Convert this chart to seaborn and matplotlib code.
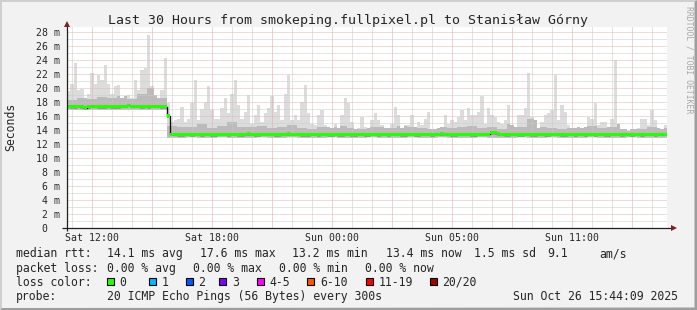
import numpy as np
import matplotlib
matplotlib.use("Agg")
import matplotlib.pyplot as plt
import seaborn as sns
from matplotlib.patches import Rectangle, Polygon
from matplotlib.ticker import MultipleLocator, FixedLocator, FuncFormatter

# ---------------- data ----------------
start_hour = 10.75          # window start, hours after Sat 00:00
step_hours = 1 / 6          # 10-minute steps
coarse_step_hours = 0.5     # 30-minute steps for the inner smoke bands

# top of the smoke (max ping), ms, 10-minute steps
smoke_max = [
    19.5, 20.5, 23.6, 19.7, 19.9, 18.5, 19.2, 22.1, 20.6, 21.8, 21.1, 23.3,
    20.6, 19.2, 20.2, 20.4, 18.5, 18.8, 19.0, 18.5, 21.1, 19.7, 22.6, 22.8,
    27.5, 20.2, 19.0, 18.5, 19.7, 24.2, 17.8, 15.2, 15.4, 15.6, 17.3, 15.2,
    15.6, 17.8, 21.1, 15.4, 17.0, 18.0, 20.2, 16.9, 15.6, 15.6, 17.1, 18.5,
    16.4, 19.2, 21.1, 17.5, 15.6, 16.6, 19.0, 14.9, 16.1, 17.5, 15.2, 16.4,
    17.1, 18.8, 16.6, 17.5, 15.4, 19.2, 21.8, 15.4, 16.1, 15.4, 18.0, 20.4,
    16.4, 14.9, 14.7, 16.1, 16.9, 14.7, 14.5, 14.3, 14.9, 14.3, 16.1, 18.5,
    17.8, 15.2, 14.1, 14.3, 15.8, 14.5, 14.3, 15.4, 16.4, 15.4, 14.7, 14.3,
    14.3, 14.9, 17.3, 16.1, 14.3, 14.7, 14.7, 16.1, 14.5, 15.2, 14.7, 15.6,
    16.6, 14.1, 14.1, 14.3, 14.5, 16.1, 14.9, 15.4, 15.2, 15.8, 16.9, 15.4,
    17.1, 16.1, 16.1, 16.6, 18.8, 14.9, 17.1, 16.1, 15.8, 15.2, 14.9, 15.4,
    17.5, 14.7, 14.5, 16.1, 16.1, 17.1, 22.1, 15.8, 15.4, 14.3, 15.2, 16.1,
    16.4, 16.9, 21.8, 15.4, 17.5, 16.6, 14.7, 14.3, 14.3, 14.5, 14.3, 14.5,
    15.8, 15.6, 17.8, 14.7, 15.2, 15.2, 14.5, 15.6, 24.0, 14.9, 14.1, 14.1,
    13.9, 14.1, 14.1, 14.3, 15.6, 15.6, 14.7, 16.9, 15.4, 14.3, 14.1, 14.7,
]

# median rtt, ms, 10-minute steps
median_rtt = [
    17.4, 17.3, 17.3, 17.4, 17.3, 17.2, 17.3, 17.4, 17.4, 17.3, 17.3, 17.3,
    17.4, 17.3, 17.3, 17.3, 17.4, 17.4, 17.5, 17.4, 17.4, 17.4, 17.3, 17.4,
    17.3, 17.4, 17.4, 17.4, 17.3, 17.3, 16.0, 13.4, 13.4, 13.3, 13.3, 13.4,
    13.4, 13.3, 13.4, 13.4, 13.3, 13.4, 13.4, 13.3, 13.3, 13.4, 13.4, 13.4,
    13.3, 13.4, 13.4, 13.3, 13.3, 13.4, 13.5, 13.4, 13.3, 13.3, 13.4, 13.4,
    13.4, 13.4, 13.3, 13.3, 13.4, 13.4, 13.5, 13.4, 13.4, 13.4, 13.3, 13.3,
    13.3, 13.4, 13.4, 13.3, 13.4, 13.4, 13.3, 13.3, 13.4, 13.3, 13.3, 13.4,
    13.4, 13.3, 13.3, 13.4, 13.4, 13.3, 13.3, 13.4, 13.4, 13.3, 13.4, 13.4,
    13.3, 13.4, 13.4, 13.4, 13.3, 13.3, 13.4, 13.4, 13.3, 13.3, 13.4, 13.4,
    13.4, 13.3, 13.4, 13.4, 13.5, 13.4, 13.4, 13.3, 13.3, 13.4, 13.4, 13.4,
    13.4, 13.3, 13.3, 13.4, 13.4, 13.4, 13.4, 13.6, 13.6, 13.5, 13.4, 13.3,
    13.3, 13.4, 13.4, 13.3, 13.3, 13.4, 13.4, 13.3, 13.3, 13.4, 13.4, 13.3,
    13.3, 13.4, 13.4, 13.4, 13.3, 13.3, 13.4, 13.4, 13.3, 13.4, 13.4, 13.3,
    13.4, 13.4, 13.3, 13.4, 13.4, 13.3, 13.3, 13.4, 13.4, 13.4, 13.3, 13.4,
    13.4, 13.3, 13.4, 13.4, 13.3, 13.4, 13.4, 13.4, 13.3, 13.4, 13.4, 13.4,
]

# bottom of the smoke (min ping), ms, 30-minute steps
smoke_min = [
    16.9, 16.8, 16.9, 16.9, 16.8, 16.9, 16.9, 16.8, 16.9, 16.9,
    12.9, 12.9, 13.0, 12.9, 12.9, 13.0, 12.9, 12.9, 12.9, 13.0,
    12.9, 12.9, 13.0, 12.9, 12.9, 12.9, 13.0, 12.9, 12.9, 12.9,
    13.0, 12.9, 12.9, 12.9, 13.0, 12.9, 12.9, 13.0, 12.9, 12.9,
    12.9, 13.0, 12.9, 12.9, 12.9, 13.0, 12.9, 12.9, 13.0, 12.9,
    12.9, 12.9, 13.0, 12.9, 12.9, 12.9, 13.0, 12.9, 12.9, 12.9,
]

# upper edge of the darker inner smoke, ms, 30-minute steps
smoke_mid = [
    18.3, 18.6, 18.4, 18.7, 18.5, 18.8, 18.4, 19.2, 20.0, 18.6,
    14.6, 14.4, 14.5, 14.8, 14.3, 14.6, 15.2, 14.5, 14.4, 14.6,
    14.3, 14.4, 14.7, 14.3, 14.2, 14.5, 14.4, 14.6, 14.3, 14.2,
    14.4, 14.5, 14.3, 14.6, 14.4, 14.3, 14.2, 14.5, 14.3, 14.4,
    14.6, 14.3, 14.4, 14.2, 14.8, 14.5, 15.6, 14.4, 14.3, 14.2,
    14.3, 14.4, 14.6, 14.3, 14.5, 15.8, 14.3, 14.2, 14.4, 14.3,
]

y_ticks = list(range(0, 29, 2))
y_tick_labels = ["0  "] + [f"{v} m" for v in range(2, 29, 2)]
x_tick_hours = [12, 18, 24, 30, 36]
x_tick_labels = ["Sat 12:00", "Sat 18:00", "Sun 00:00", "Sun 05:00", "Sun 11:00"]

title = "Last 30 Hours from smokeping.fullpixel.pl to Stanisław Górny"
y_label = "Seconds"
row_labels = ["median rtt:", "packet loss:", "loss color:", "probe:"]
median_stats = ["14.1 ms avg", "17.6 ms max", "13.2 ms min", "13.4 ms now",
                "1.5 ms sd", "9.1", "am/s"]
loss_stats = ["0.00 % avg", "0.00 % max", "0.00 % min", "0.00 % now"]
loss_labels = ["0", "1", "2", "3", "4-5", "6-10", "11-19", "20/20"]
loss_colors = ["#26ff00", "#00b8ff", "#0059ff", "#7e00ff",
               "#ff00ff", "#ff5500", "#ff0000", "#a10000"]
probe_text = "20 ICMP Echo Pings (56 Bytes) every 300s"
timestamp = "Sun Oct 26 15:44:09 2025"
watermark = "RRDTOOL / TOBI OETIKER"

# ---------------- style ----------------
sns.set_style("white")
plt.rcParams["font.family"] = ["DejaVu Sans Mono"]
MONO = "DejaVu Sans Mono"

W, H = 697, 310
BACK = "#f2f2f2"
fig = plt.figure(figsize=(W / 100, H / 100), dpi=100, facecolor=BACK)

# plot area in pixels
PX_L, PX_R, PX_T, PX_B = 67, 667, 27, 228.3
ax = fig.add_axes([PX_L / W, 1 - PX_B / H, (PX_R - PX_L) / W, (PX_B - PX_T) / H])
ax.set_facecolor("white")

n_fine = len(smoke_max)
x_fine = start_hour + step_hours * np.arange(n_fine + 1)
rep = int(round(coarse_step_hours / step_hours))
hi = np.array(smoke_max)
med = np.array(median_rtt)
lo = np.repeat(np.array(smoke_min), rep)[:n_fine]
mid = np.minimum(np.repeat(np.array(smoke_mid), rep)[:n_fine], hi)

def ext(a):
    return np.append(a, a[-1])

ax.fill_between(x_fine, ext(lo), ext(hi), step="post", color="#dcdcdc", lw=0, zorder=1)
ax.fill_between(x_fine, ext(lo), ext(mid), step="post", color="#bbbbbb", lw=0, zorder=1.1)
sns.lineplot(x=x_fine, y=ext(med), drawstyle="steps-post", color="#111111",
             lw=1.0, estimator=None, ax=ax, zorder=3)
ax.fill_between(x_fine, ext(med) - 0.22, ext(med) + 0.22, step="post",
                color=loss_colors[0], lw=0, zorder=4)

span = n_fine * step_hours
ax.set_xlim(start_hour, start_hour + span)
ax.set_ylim(0, (PX_B - PX_T) / 7.02)

# grid: y labelled every 2, minor every 1; x major every 3 h, minor hourly
ax.yaxis.set_major_locator(FixedLocator(y_ticks))
ax.set_yticklabels(y_tick_labels)
ax.yaxis.set_minor_locator(MultipleLocator(1))
label_map = dict(zip(x_tick_hours, x_tick_labels))
ax.xaxis.set_major_locator(MultipleLocator(3))
ax.xaxis.set_major_formatter(FuncFormatter(lambda v, p: label_map.get(int(round(v)), "")))
ax.xaxis.set_minor_locator(MultipleLocator(1))
ax.set_axisbelow(False)
dot = (0, (1, 1))
ax.xaxis.grid(True, which="major", color="#eba3a3", lw=0.72, ls=dot, snap=True)
ax.xaxis.grid(True, which="minor", color="#c8c8c8", lw=0.72, ls=dot, snap=True)
ax.yaxis.grid(True, which="major", color="#e2b8b8", lw=0.72, ls=dot, snap=True)
ax.yaxis.grid(True, which="minor", color="#cdcdcd", lw=0.72, ls=dot, snap=True)
ax.tick_params(which="both", length=0)
ax.tick_params(axis="y", pad=5, labelsize=7.1)
ax.tick_params(axis="x", pad=3.5, labelsize=7.1)
for lab in ax.get_xticklabels() + ax.get_yticklabels():
    lab.set_fontfamily(MONO)
ax.set_xlabel("")
ax.set_ylabel("")
for s in ax.spines.values():
    s.set_visible(False)

# axes lines with arrows
AXIS_C = "#1f1f1f"
ARROW_C = "#801f1f"
pw, ph = PX_R - PX_L, PX_B - PX_T
ax.plot([-5 / pw, 1 + 4 / pw], [0, 0], color=AXIS_C, lw=0.9, transform=ax.transAxes,
        clip_on=False, zorder=6, solid_capstyle="butt")
ax.plot([0, 0], [-3 / ph, 1 + 1 / ph], color=AXIS_C, lw=0.9, transform=ax.transAxes,
        clip_on=False, zorder=6, solid_capstyle="butt")
ax.plot([1 + 6.5 / pw], [0], marker=">", ms=5, color=ARROW_C, mec=ARROW_C, mew=0,
        transform=ax.transAxes, clip_on=False, zorder=7)
ax.plot([0], [1 + 3.5 / ph], marker="^", ms=5, color=ARROW_C, mec=ARROW_C, mew=0,
        transform=ax.transAxes, clip_on=False, zorder=7)

# ---------------- overlay (pixel coordinates) ----------------
ov = fig.add_axes([0, 0, 1, 1], zorder=10)
ov.set_xlim(0, W)
ov.set_ylim(H, 0)
ov.axis("off")
ov.patch.set_alpha(0)

# 3D frame
ov.add_patch(Polygon([(0, 0), (W, 0), (W - 2, 2), (2, 2), (2, H - 2), (0, H)],
                     closed=True, color="#cfcfcf", lw=0))
ov.add_patch(Polygon([(W, 0), (W, H), (0, H), (2, H - 2), (W - 2.5, H - 2.5), (W - 2.5, 2)],
                     closed=True, color="#9e9e9e", lw=0))

FS = 8.3
ov.text(348.5, 24, title, ha="center", va="baseline", fontsize=9.55, family=MONO)
ov.text(10.5, 127, y_label, rotation=90, ha="center", va="center", fontsize=FS, family=MONO)
ov.text(689, 60, watermark, rotation=270, ha="center", va="center", fontsize=5.9,
        color="#a8a8a8", family=MONO)

row_y = [257.3, 271.6, 285.8, 300.0]
label_x = 16.3
for y, t in zip(row_y, row_labels):
    ov.text(label_x, y, t, va="baseline", fontsize=FS, family=MONO)

median_x = [106.8, 200.0, 292.0, 386.0, 474.5, 547.7, 599.5]
for x, t in zip(median_x, median_stats):
    ov.text(x, row_y[0], t, va="baseline", fontsize=FS, family=MONO)

loss_x = [107.0, 192.7, 278.7, 365.0]
for x, t in zip(loss_x, loss_stats):
    ov.text(x, row_y[1], t, va="baseline", fontsize=FS, family=MONO)

box_x = [106.7, 149.0, 186.0, 219.3, 256.7, 307.3, 366.0, 430.0]
box_w, box_h = 7.0, 7.0
for x, c, t in zip(box_x, loss_colors, loss_labels):
    ov.add_patch(Rectangle((x, row_y[2] - 8.3), box_w, box_h, facecolor=c,
                           edgecolor="black", lw=0.8))
    ov.text(x + 12.5, row_y[2], t, va="baseline", fontsize=FS, family=MONO)

ov.text(107.0, row_y[3], probe_text, va="baseline", fontsize=FS, family=MONO)
ov.text(512.8, row_y[3], timestamp, va="baseline", fontsize=FS, family=MONO)

fig.savefig("out.png", dpi=100, facecolor=BACK)
